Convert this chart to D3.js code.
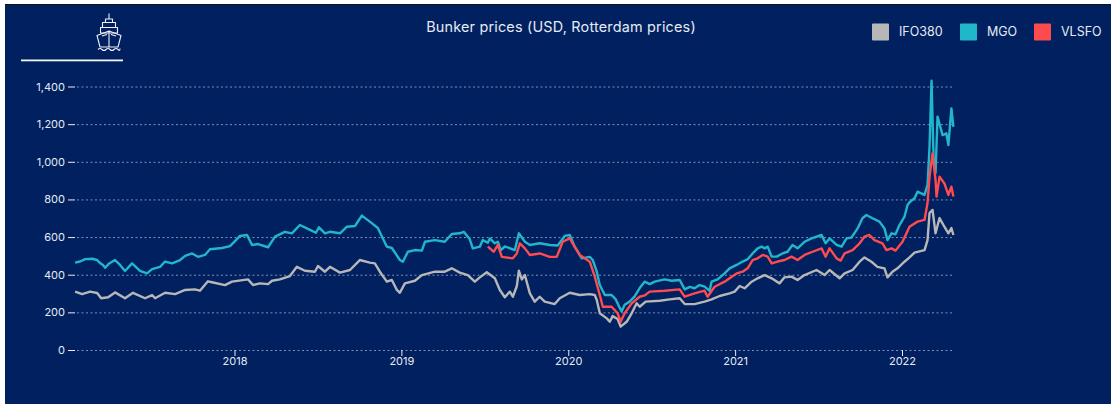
<!DOCTYPE html>
<html><head><meta charset="utf-8">
<script src="https://cdn.jsdelivr.net/npm/d3@7"></script>
<style>html,body{margin:0;padding:0;background:#fff;overflow:hidden}svg{display:block}text{font-family:Inter,"Open Sans",sans-serif}</style>
</head><body><svg id="c" width="1111" height="404"></svg>
<script>
const chartTitle = "Bunker prices (USD, Rotterdam prices)";
const seriesNames = ["IFO380","MGO","VLSFO"];
const seriesColors = ["#b7b7b7","#22b6ca","#ff4a50"];
const yTicks = [0,200,400,600,800,1000,1200,1400];
const xTicks = [2018,2019,2020,2021,2022];

const ifoYears = [2017.045,2017.087,2017.135,2017.177,2017.201,2017.243,2017.284,2017.344,2017.392,2017.464,2017.506,2017.524,2017.584,2017.644,2017.704,2017.763,2017.793,2017.841,2017.865,2017.943,2017.985,2018.081,2018.111,2018.153,2018.201,2018.225,2018.272,2018.332,2018.374,2018.422,2018.482,2018.5,2018.542,2018.572,2018.632,2018.692,2018.751,2018.811,2018.841,2018.871,2018.913,2018.943,2018.973,2018.991,2019.021,2019.081,2019.123,2019.201,2019.26,2019.302,2019.35,2019.398,2019.44,2019.47,2019.512,2019.56,2019.59,2019.62,2019.65,2019.668,2019.692,2019.704,2019.722,2019.74,2019.77,2019.799,2019.829,2019.859,2019.919,2019.949,2020.009,2020.069,2020.129,2020.159,2020.171,2020.189,2020.231,2020.249,2020.266,2020.296,2020.314,2020.35,2020.38,2020.41,2020.428,2020.464,2020.548,2020.608,2020.668,2020.698,2020.757,2020.817,2020.859,2020.907,2020.967,2020.997,2021.027,2021.057,2021.099,2021.135,2021.177,2021.219,2021.266,2021.296,2021.338,2021.374,2021.416,2021.488,2021.536,2021.566,2021.626,2021.656,2021.704,2021.746,2021.775,2021.817,2021.853,2021.895,2021.913,2021.943,2021.973,2022.015,2022.045,2022.075,2022.135,2022.153,2022.165,2022.183,2022.201,2022.225,2022.254,2022.278,2022.296,2022.308];
const ifoValues = [310,297,310,303,275,280,306,275,304,275,292,275,304,297,319,322,315,365,360,345,363,375,345,354,350,368,375,393,442,421,416,446,416,442,411,425,478,464,460,416,363,372,319,304,354,368,398,416,416,434,411,398,363,386,413,381,319,280,310,283,340,421,375,398,301,257,283,257,244,275,304,292,297,292,266,195,168,150,180,165,124,150,195,248,230,257,262,269,275,244,244,257,269,287,301,310,340,328,363,381,398,381,354,386,390,372,398,425,398,425,381,407,425,469,492,469,442,434,386,416,434,469,492,517,531,584,728,744,620,701,655,620,648,611];

const mgoYears = [2017.045,2017.075,2017.105,2017.147,2017.177,2017.195,2017.213,2017.225,2017.249,2017.284,2017.314,2017.344,2017.386,2017.434,2017.476,2017.506,2017.554,2017.584,2017.626,2017.674,2017.704,2017.746,2017.781,2017.823,2017.853,2017.883,2017.925,2017.973,2018.009,2018.033,2018.075,2018.105,2018.141,2018.201,2018.243,2018.302,2018.344,2018.392,2018.452,2018.488,2018.506,2018.542,2018.572,2018.632,2018.674,2018.722,2018.763,2018.811,2018.859,2018.913,2018.943,2018.991,2019.009,2019.039,2019.081,2019.123,2019.141,2019.201,2019.26,2019.302,2019.35,2019.374,2019.41,2019.428,2019.47,2019.488,2019.518,2019.53,2019.56,2019.578,2019.596,2019.62,2019.68,2019.704,2019.74,2019.77,2019.829,2019.889,2019.937,2019.979,2020.009,2020.039,2020.081,2020.129,2020.147,2020.171,2020.189,2020.219,2020.26,2020.284,2020.308,2020.32,2020.338,2020.368,2020.398,2020.428,2020.458,2020.488,2020.518,2020.578,2020.62,2020.668,2020.698,2020.728,2020.757,2020.787,2020.817,2020.847,2020.859,2020.895,2020.937,2020.967,2021.009,2021.045,2021.075,2021.105,2021.135,2021.159,2021.177,2021.195,2021.219,2021.249,2021.284,2021.314,2021.344,2021.374,2021.416,2021.458,2021.518,2021.542,2021.566,2021.608,2021.638,2021.668,2021.698,2021.734,2021.763,2021.787,2021.823,2021.865,2021.895,2021.913,2021.937,2021.961,2021.985,2022.015,2022.033,2022.045,2022.075,2022.093,2022.135,2022.153,2022.165,2022.177,2022.189,2022.201,2022.213,2022.225,2022.243,2022.266,2022.278,2022.296,2022.308];
const mgoValues = [464,470,483,485,478,462,450,437,460,478,452,420,460,421,407,430,442,470,460,478,500,513,495,505,535,538,542,552,584,606,611,558,563,546,602,628,620,664,638,623,652,620,628,620,655,659,714,682,648,549,542,478,469,522,531,528,575,584,575,616,620,628,588,540,549,584,570,593,567,575,531,550,531,620,575,558,567,558,555,606,611,549,487,495,478,416,345,292,292,270,225,205,240,257,285,329,363,350,363,375,368,372,322,335,328,345,337,315,363,375,407,434,452,470,482,513,540,549,540,549,496,496,513,522,558,540,575,593,611,567,593,558,549,593,598,646,700,717,700,682,646,584,620,615,664,708,770,785,806,841,824,877,1080,1431,1027,940,1240,1200,1142,1151,1089,1284,1186];

const vlsfoYears = [2019.518,2019.554,2019.578,2019.602,2019.668,2019.692,2019.71,2019.74,2019.77,2019.829,2019.889,2019.931,2019.967,2020.009,2020.039,2020.069,2020.129,2020.159,2020.189,2020.207,2020.26,2020.296,2020.314,2020.338,2020.38,2020.428,2020.458,2020.488,2020.578,2020.668,2020.698,2020.757,2020.817,2020.835,2020.877,2020.937,2020.967,2021.009,2021.045,2021.075,2021.105,2021.135,2021.165,2021.195,2021.219,2021.255,2021.296,2021.338,2021.374,2021.416,2021.464,2021.518,2021.542,2021.566,2021.608,2021.632,2021.656,2021.704,2021.746,2021.775,2021.805,2021.835,2021.883,2021.907,2021.937,2021.961,2022.003,2022.027,2022.045,2022.093,2022.135,2022.153,2022.165,2022.183,2022.201,2022.207,2022.225,2022.254,2022.278,2022.296,2022.308];
const vlsfoValues = [549,522,558,495,487,513,567,540,505,513,495,495,575,593,547,505,469,390,292,230,230,195,150,195,248,283,290,310,315,322,283,301,315,283,336,363,381,407,416,434,478,487,505,496,460,470,478,496,478,505,522,540,496,540,487,475,513,531,567,602,611,584,567,531,540,528,575,620,655,682,691,781,921,1045,903,815,921,885,824,868,815];

const seriesYears = [ifoYears,mgoYears,vlsfoYears];
const seriesValues = [ifoValues,mgoValues,vlsfoValues];

const svg = d3.select("#c");
const navy = "#002060";
svg.append("rect").attr("x",5).attr("y",4).attr("width",1106).attr("height",400).attr("fill",navy);
svg.append("rect").attr("x",5).attr("y",4).attr("width",1106).attr("height",1).attr("fill","#111");

const x = d3.scaleLinear().domain([2018,2022]).range([234.5,902]);
const y = d3.scaleLinear().domain([0,1400]).range([350,86.5]);

svg.append("text").attr("x",561).attr("y",32).attr("text-anchor","middle")
  .attr("fill","#e6eaf3").attr("font-size",14.4).attr("letter-spacing",0.2).text(chartTitle);

// y axis + dotted grid
const ya = svg.append("g").attr("transform","translate(75,0)").call(
  d3.axisLeft(y).tickValues(yTicks).tickSize(7).tickPadding(3).tickFormat(d3.format(",")));
ya.select(".domain").remove();
ya.selectAll(".tick line").attr("stroke","#e8ecf5");
ya.selectAll("text").attr("fill","#e6eaf3").attr("font-size",11).style("font-family","Inter");
svg.append("g").selectAll("line").data(yTicks).join("line")
  .attr("x1",77).attr("x2",954).attr("y1",d=>y(d)+.5).attr("y2",d=>y(d)+.5)
  .attr("stroke","#7f8fb4").attr("stroke-dasharray","2 2.5").attr("stroke-width",1);

// x axis
const xa = svg.append("g").attr("transform","translate(0,350)").call(
  d3.axisBottom(x).tickValues(xTicks).tickSize(6).tickPadding(1).tickFormat(d3.format("d")));
xa.select(".domain").remove();
xa.selectAll(".tick line").attr("stroke","#e8ecf5");
xa.selectAll("text").attr("fill","#e6eaf3").attr("font-size",11).style("font-family","Inter");

// series
const line = d3.line().x(d=>x(d[0])).y(d=>y(d[1]));
seriesNames.forEach((n,i)=>{
  svg.append("path").datum(d3.zip(seriesYears[i],seriesValues[i]))
    .attr("fill","none").attr("stroke",seriesColors[i]).attr("stroke-width",2.4)
    .attr("stroke-linejoin","round").attr("d",line);
});

// legend
const legendSwatchX = [872,960,1034], legendTextX = [899,987,1061];
seriesNames.forEach((n,i)=>{
  svg.append("rect").attr("x",legendSwatchX[i]).attr("y",23.5).attr("width",17).attr("height",17).attr("rx",1).attr("fill",seriesColors[i]);
  svg.append("text").attr("x",legendTextX[i]).attr("y",36).attr("fill","#e6eaf3").attr("font-size",12.5).text(n);
});

// ship icon
const ship = svg.append("g").attr("fill","none").attr("stroke","#eef1f7").attr("stroke-width",1.1).attr("stroke-linejoin","round");
ship.append("path").attr("d","M109 13.5V19M105.5 19H112.5V22.5H105.5ZM102.5 22.5H115.5V27.5H102.5ZM100.5 27.5H117.5V33H100.5Z");
ship.append("path").attr("d","M97 35.5L109 31L121 35.5L118 47H100ZM109 31V47M102 36L107 34.5M116 36L111 34.5");
ship.append("path").attr("d","M98 49.5q2 -2 4 0t4 0t4 0t4 0t4 0t2 -1");
svg.append("rect").attr("x",21).attr("y",59.5).attr("width",102).attr("height",1.8).attr("fill","#f2f4f8");
</script></body></html>
